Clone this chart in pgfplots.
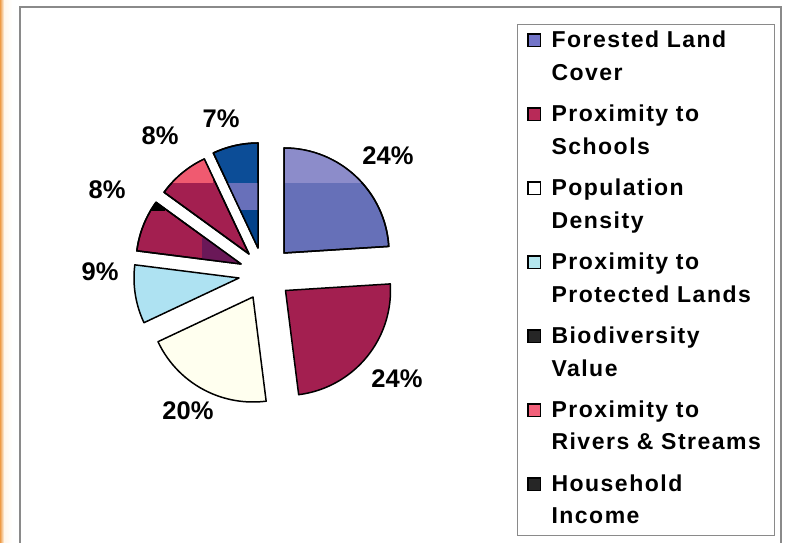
\documentclass[border=0pt]{standalone}
\usepackage{pgfplots}
\pgfplotsset{compat=1.18}
\usepackage{fontspec}
\setmainfont{Liberation Sans}
\newfontfamily\spaced{Liberation Sans Bold}[LetterSpace=6.5]
\definecolor{cForest}{HTML}{6670B8}
\definecolor{cForestL}{HTML}{8C8CCA}
\definecolor{cSchool}{HTML}{A31F50}
\definecolor{cPop}{HTML}{FFFFEF}
\definecolor{cProt}{HTML}{AEE2F2}
\definecolor{cBio}{HTML}{A31F50}
\definecolor{cBioD}{HTML}{6A1858}
\definecolor{cRiv}{HTML}{A31F50}
\definecolor{cRivP}{HTML}{F05A70}
\definecolor{cHouse}{HTML}{0C4D97}
\definecolor{cHouseM}{HTML}{6870BA}
\definecolor{cHouseD}{HTML}{03428A}
\definecolor{lgForest}{HTML}{7274C8}
\definecolor{lgSchool}{HTML}{B82A58}
\definecolor{lgProt}{HTML}{B4E6EE}
\definecolor{lgDark}{HTML}{262626}
\definecolor{lgRiv}{HTML}{F2607A}
\definecolor{frame}{HTML}{8A8A8A}
\definecolor{orangeS}{HTML}{EE9A44}
\definecolor{peach}{HTML}{FFF6EA}

\newcommand{\legfont}{\spaced\fontsize{23}{32.5}\selectfont}
\newcommand{\lblfont}{\bfseries\fontsize{25.5}{30}\selectfont}

% wedge outline: apex x, apex y, cumulative percent before, percent
\newcommand{\wedgepath}[4]{(axis cs:#1,#2) -- +({90-3.6*(#3)}:105pt) arc[start angle={90-3.6*(#3)}, delta angle={-3.6*(#4)}, radius=105pt] -- cycle}

% slice drawn through pgfplots: apex x, apex y, cumulative percent, percent, colour
\newcommand{\slice}[5]{%
  \pgfmathsetmacro{\aS}{90-3.6*(#3)}%
  \pgfmathsetmacro{\aE}{90-3.6*((#3)+(#4))}%
  \edef\doslice{\noexpand\addplot[fill=#5, draw=black, line width=1.5pt, line join=round, domain=\aE:\aS, samples=61, forget plot] ({#1+105*cos(x)}, {#2+105*sin(x)}) -- (axis cs:#1,#2) -- cycle;}%
  \doslice
}

\begin{document}
\begin{tikzpicture}
\begin{axis}[
  scale only axis, width=785pt, height=543pt,
  xmin=0, xmax=785, ymin=0, ymax=543,
  hide axis,
  legend image code/.code={\draw[#1] (0pt,1pt) rectangle (12.5pt,13.5pt);},
  legend style={at={(0.6586,0.9558)}, anchor=north west, draw=frame, line width=1pt, fill=white,
    inner xsep=9.5pt, inner ysep=6pt, column sep=10.5pt, row sep=18.5pt,
    cells={anchor=base west},
    nodes={inner sep=0pt, text width=213pt, align=left, text height=17pt, text depth=38.5pt, font=\legfont}},
]
% frame and left stripe
\fill[left color=orangeS, right color=peach] (axis cs:0,0) rectangle (axis cs:4,543);
\fill[left color=peach, right color=white] (axis cs:4,0) rectangle (axis cs:12,543);
\draw[frame, line width=1.2pt] (axis cs:20,0) -- (axis cs:20,536) -- (axis cs:781,536) -- (axis cs:781,0);

% slices: percentages 24, 24, 20, 9, 8, 8, 7
\slice{284}{290}{0}{24}{cForest}
\slice{285.5}{252.5}{24}{24}{cSchool}
\slice{253}{246}{48}{20}{cPop}
\slice{239}{265}{68}{9}{cProt}
\slice{241}{279}{77}{8}{cBio}
\slice{249}{289}{85}{8}{cRiv}
\slice{258}{295}{93}{7}{cHouse}

% shading blocks of the original rendering
\begin{scope}
\clip \wedgepath{284}{290}{0}{24};
\fill[cForestL] (axis cs:150,360) rectangle (axis cs:420,460);
\end{scope}
\draw[black, line width=1.5pt, line join=round] \wedgepath{284}{290}{0}{24};
\begin{scope}
\clip \wedgepath{258}{295}{93}{7};
\fill[cHouseM] (axis cs:150,333) rectangle (axis cs:300,360);
\fill[cHouseD] (axis cs:150,250) rectangle (axis cs:300,333);
\end{scope}
\draw[black, line width=1.5pt, line join=round] \wedgepath{258}{295}{93}{7};
\begin{scope}
\clip \wedgepath{249}{289}{85}{8};
\fill[cRivP] (axis cs:165,360) rectangle (axis cs:213,460);
\end{scope}
\draw[black, line width=1.5pt, line join=round] \wedgepath{249}{289}{85}{8};
\begin{scope}
\clip \wedgepath{241}{279}{77}{8};
\fill[cBioD] (axis cs:202,250) rectangle (axis cs:260,305);
\fill[black] (axis cs:100,332) rectangle (axis cs:165,400);
\end{scope}
\draw[black, line width=1.5pt, line join=round] \wedgepath{241}{279}{77}{8};

% percentage labels
\node[font=\lblfont] at (axis cs:388,387) {24\%};
\node[font=\lblfont] at (axis cs:397,164) {24\%};
\node[font=\lblfont] at (axis cs:188,132) {20\%};
\node[font=\lblfont] at (axis cs:100,271) {9\%};
\node[font=\lblfont] at (axis cs:107,353) {8\%};
\node[font=\lblfont] at (axis cs:160,407) {8\%};
\node[font=\lblfont] at (axis cs:221,424) {7\%};

% legend
\addlegendimage{fill=lgForest, draw=black, line width=1.5pt}
\addlegendentry{\mbox{Forested Land}\\Cover}
\addlegendimage{fill=lgSchool, draw=black, line width=1.5pt}
\addlegendentry{\mbox{Proximity to}\\Schools}
\addlegendimage{fill=white, draw=black, line width=1.5pt}
\addlegendentry{Population\\Density}
\addlegendimage{fill=lgProt, draw=black, line width=1.5pt}
\addlegendentry{\mbox{Proximity to}\\\mbox{Protected Lands}}
\addlegendimage{fill=lgDark, draw=black, line width=1.5pt}
\addlegendentry{Biodiversity\\Value}
\addlegendimage{fill=lgRiv, draw=black, line width=1.5pt}
\addlegendentry{\mbox{Proximity to}\\\mbox{Rivers \& Streams}}
\addlegendimage{fill=lgDark, draw=black, line width=1.5pt}
\addlegendentry{Household\\Income}
\end{axis}
\pgfresetboundingbox
\useasboundingbox (current axis.south west) rectangle (current axis.north east);
\end{tikzpicture}
\end{document}
